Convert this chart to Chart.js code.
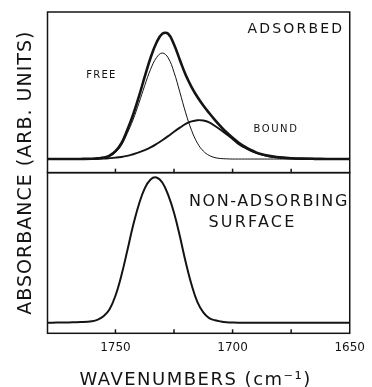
<!DOCTYPE html>
<html>
<head>
<meta charset="utf-8">
<script src="https://cdn.jsdelivr.net/npm/chart.js@4.4.1/dist/chart.umd.min.js"></script>
<style>
html,body{margin:0;padding:0;background:#fff;}
#wrap{width:372px;height:387px;position:relative;}
</style>
</head>
<body>
<div id="wrap"><canvas id="c" width="372" height="387"></canvas></div>
<script>
// ---- data (wavenumbers in cm^-1, absorbance in arbitrary units) ----
const wavenumbers = [1779, 1775, 1770, 1765, 1760, 1757.5, 1755, 1752.5, 1750, 1747.5, 1745, 1742.5, 1740, 1737.5, 1735, 1732.5, 1730, 1727.5, 1725, 1722.5, 1720, 1717.5, 1715, 1712.5, 1710, 1707.5, 1705, 1702.5, 1700, 1697.5, 1695, 1692.5, 1690, 1687.5, 1685, 1682.5, 1680, 1675, 1670, 1665, 1660, 1655, 1650];

const adsorbedTotal = [0, 0, 0, 0.1, 0.3, 0.7, 1.5, 3.5, 7.9, 15.6, 28.7, 44.0, 62.4, 82.3, 101.3, 116.3, 125.3, 125.2, 114.5, 99.0, 84.0, 72.0, 62.0, 53.5, 46.0, 39.0, 32.5, 26.5, 21.2, 16.6, 12.6, 9.3, 6.7, 4.8, 3.4, 2.4, 1.7, 0.8, 0.4, 0.2, 0.1, 0, 0];

const freeBand = [0, 0, 0, 0, 0.1, 0.4, 1.0, 2.6, 6.5, 13.5, 25.5, 39.2, 55.8, 73.5, 89.7, 101.3, 106.0, 101.2, 86.8, 66.8, 46.1, 28.6, 15.9, 8.0, 3.6, 1.4, 0.5, 0.2, 0, 0, 0, 0, 0, 0, 0, 0, 0, 0, 0, 0, 0, 0, 0];

const boundBand = [0, 0, 0, 0.1, 0.2, 0.3, 0.5, 0.9, 1.4, 2.1, 3.2, 4.8, 6.6, 8.8, 11.6, 15.0, 18.8, 22.9, 27.3, 31.4, 35.2, 37.6, 38.8, 38.5, 36.7, 33.0, 29.0, 24.6, 20.0, 15.0, 11.6, 8.6, 6.2, 4.4, 3.1, 2.2, 1.6, 0.8, 0.4, 0.2, 0.1, 0, 0];

const nonAdsorbing = [0.3, 0.4, 0.6, 0.9, 1.8, 3.4, 7.0, 13.8, 27.3, 47.2, 71.7, 97.2, 118.6, 134.7, 143.6, 145.6, 140.5, 128.1, 110.2, 86.7, 60.8, 38.2, 20.9, 10.6, 4.9, 2.7, 1.5, 0.8, 0.5, 0.3, 0.3, 0.3, 0.3, 0.3, 0.3, 0.3, 0.3, 0.3, 0.3, 0.3, 0.3, 0.3, 0.3];

const xTickValues = [1750, 1725, 1700, 1675, 1650];
const xTickLabels = {1750: '1750', 1700: '1700', 1650: '1650'};

const xTitle = 'WAVENUMBERS (cm\u207B\u00B9)';
const yTitle = 'ABSORBANCE (ARB. UNITS)';

// annotation texts and where they sit (data coordinates)
const annotations = [
  {text: 'ADSORBED', x: 1673.0, y: 131, scale: 'yTop', size: 14, spacing: 2.2},
  {text: 'FREE', x: 1756.0, y: 84.5, scale: 'yTop', size: 10, spacing: 1.2},
  {text: 'BOUND', x: 1681.5, y: 31, scale: 'yTop', size: 10, spacing: 1.6},
  {text: 'NON-ADSORBING', x: 1684.5, y: 123, scale: 'yBottom', size: 16, spacing: 1.6},
  {text: 'SURFACE', x: 1691.5, y: 102, scale: 'yBottom', size: 16, spacing: 2.2}
];

const FONT = "'DejaVu Sans', 'Liberation Sans', sans-serif";
const INK = '#141414';

function pts(vals) { return wavenumbers.map((w, i) => ({x: w, y: vals[i]})); }

const panelPlugin = {
  id: 'panels',
  afterDatasetsDraw(chart) {
    const {ctx, chartArea, scales} = chart;
    const xs = scales.x;
    ctx.save();
    ctx.strokeStyle = INK;
    ctx.lineWidth = 1.5;
    [scales.yTop, scales.yBottom].forEach(s => {
      ctx.strokeRect(chartArea.left, s.top, chartArea.right - chartArea.left, s.bottom - s.top);
      xTickValues.forEach(v => {
        const px = xs.getPixelForValue(v);
        if (px > chartArea.left + 2 && px < chartArea.right - 2) {
          ctx.beginPath();
          ctx.moveTo(px, s.bottom);
          ctx.lineTo(px, s.bottom - 4);
          ctx.stroke();
        }
      });
    });
    ctx.fillStyle = INK;
    annotations.forEach(a => {
      const ys = scales[a.scale];
      ctx.font = a.size + 'px ' + FONT;
      ctx.letterSpacing = a.spacing + 'px';
      ctx.textAlign = 'center';
      ctx.textBaseline = 'alphabetic';
      ctx.fillText(a.text, xs.getPixelForValue(a.x), ys.getPixelForValue(a.y) + 0.365 * a.size);
    });
    ctx.font = '18px ' + FONT;
    ctx.letterSpacing = '1.5px';
    ctx.textAlign = 'center';
    ctx.fillText(xTitle, (chartArea.left + chartArea.right) / 2 - 3, 378.5 + 0.365 * 18);
    const cy = (scales.yTop.top + scales.yBottom.bottom) / 2;
    ctx.translate(24, cy);
    ctx.rotate(-Math.PI / 2);
    ctx.font = '19px ' + FONT;
    ctx.letterSpacing = '1px';
    ctx.fillText(yTitle, 0, 0.365 * 19);
    ctx.restore();
  }
};

new Chart(document.getElementById('c'), {
  type: 'line',
  data: {
    datasets: [
      {label: 'Adsorbed (total)', data: pts(adsorbedTotal), yAxisID: 'yTop', borderColor: INK, borderWidth: 2.6},
      {label: 'Free', data: pts(freeBand), yAxisID: 'yTop', borderColor: INK, borderWidth: 1.0},
      {label: 'Bound', data: pts(boundBand), yAxisID: 'yTop', borderColor: INK, borderWidth: 1.9},
      {label: 'Non-adsorbing surface', data: pts(nonAdsorbing), yAxisID: 'yBottom', borderColor: INK, borderWidth: 2.0}
    ]
  },
  options: {
    responsive: false,
    animation: false,
    devicePixelRatio: 1,
    layout: {padding: {left: 47.5, right: 15, top: 12, bottom: 0}},
    elements: {
      point: {radius: 0},
      line: {tension: 0.4, fill: false, borderCapStyle: 'round', borderJoinStyle: 'round'}
    },
    plugins: {legend: {display: false}, tooltip: {enabled: false}},
    scales: {
      x: {
        type: 'linear', reverse: true, min: 1650, max: 1779,
        afterBuildTicks: s => { s.ticks = xTickValues.map(v => ({value: v})); },
        afterFit: s => { s.height = 53.7; },
        grid: {display: false, drawTicks: false},
        border: {display: false},
        ticks: {
          autoSkip: false, maxRotation: 0, padding: 7, color: INK,
          font: {family: FONT, size: 12},
          callback: v => xTickLabels[v] || ''
        }
      },
      yBottom: {
        type: 'linear', position: 'left', stack: 'panels', stackWeight: 1, weight: 1,
        min: -10.3, max: 150.4, display: false
      },
      yTop: {
        type: 'linear', position: 'left', stack: 'panels', stackWeight: 1, weight: 2,
        min: -13.6, max: 147, display: false
      }
    }
  },
  plugins: [panelPlugin]
});
</script>
</body>
</html>
